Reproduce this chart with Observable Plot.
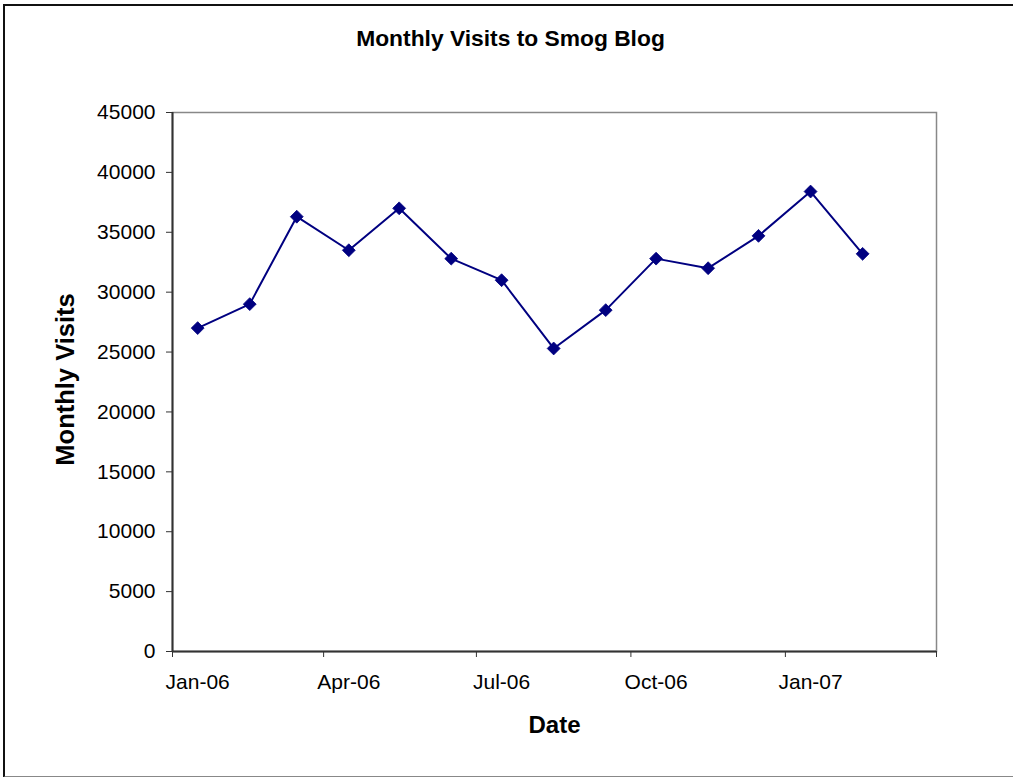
<!DOCTYPE html>
<html>
<head>
<meta charset="utf-8">
<script src="https://cdn.jsdelivr.net/npm/d3@7"></script>
<script src="https://cdn.jsdelivr.net/npm/@observablehq/plot@0.6"></script>
<style>
  html, body { margin: 0; padding: 0; background: #fff; }
  #wrap { position: relative; width: 1013px; height: 777px; overflow: hidden; }
  #edge {
    position: absolute; left: 3px; top: 4px; width: 1030px; height: 770px;
    border-left: 2px solid #111; border-top: 2px solid #111; border-bottom: 2px solid #888;
    pointer-events: none;
  }
  #chart { position: absolute; left: 0; top: 0; }
</style>
</head>
<body>
<div id="wrap"><div id="chart"></div><div id="edge"></div></div>
<script>
// Monthly visit counts, one per month
const months = ["2006-01", "2006-02", "2006-03", "2006-04", "2006-05", "2006-06", "2006-07",
                "2006-08", "2006-09", "2006-10", "2006-11", "2006-12", "2007-01", "2007-02"];
const visits = [27000, 29000, 36300, 33500, 37000, 32800, 31000,
                25300, 28500, 32800, 32000, 34700, 38400, 33200];

// Axis ticks: quarter boundaries and the months that carry a label
const quarterStarts = ["2006-01", "2006-04", "2006-07", "2006-10", "2007-01", "2007-04"];
const labelMonths = ["2006-01", "2006-04", "2006-07", "2006-10", "2007-01"];
const yTicks = [0, 5000, 10000, 15000, 20000, 25000, 30000, 35000, 40000, 45000];

const title = "Monthly Visits to Smog Blog";
const xTitle = "Date";
const yTitle = "Monthly Visits";

const monthStart = s => new Date(s + "-01T00:00:00Z");
const midMonth = s => new Date(s + "-16T00:00:00Z");

const data = months.map((m, i) => ({date: midMonth(m), visits: visits[i]}));

const font = "'Liberation Sans', Arial, Helvetica, sans-serif";
const navy = "#000080";

const chart = Plot.plot({
  width: 1013,
  height: 777,
  marginLeft: 172,
  marginRight: 77,
  marginTop: 112,
  marginBottom: 126,
  style: {fontFamily: font, fontSize: "21px", color: "#000", background: "transparent"},
  x: {type: "utc", domain: [monthStart("2006-01"), monthStart("2007-04")]},
  y: {domain: [0, 45000]},
  marks: [
    // plot area border: grey top/right, dark axis lines left/bottom
    Plot.frame({stroke: "#888", strokeWidth: 1.5}),
    Plot.ruleX([monthStart("2006-01")], {stroke: "#333", strokeWidth: 2}),
    Plot.ruleY([0], {stroke: "#333", strokeWidth: 2}),
    Plot.axisY({ticks: yTicks, tickSize: 6, tickPadding: 11, tickFormat: d => String(d),
      stroke: "#333", fontSize: 21, label: null}),
    // quarter tick marks (unlabelled)
    Plot.axisX({ticks: quarterStarts.map(monthStart), tickSize: 6, tickFormat: () => "",
      stroke: "#333", label: null}),
    // month labels centred under their data point
    Plot.axisX({ticks: labelMonths.map(midMonth), tickSize: 0, tickPadding: 23,
      tickFormat: d3.utcFormat("%b-%y"), fontSize: 21, label: null}),
    Plot.line(data, {x: "date", y: "visits", stroke: navy, strokeWidth: 2}),
    Plot.dot(data, {x: "date", y: "visits", symbol: "diamond2", r: 5.8, fill: navy, stroke: navy, strokeWidth: 0.8}),
    // titles
    Plot.text([title], {frameAnchor: "top", dx: -44, dy: -73.5, fontSize: 22.8, fontWeight: "bold",
      fill: "#000", lineAnchor: "middle", textAnchor: "middle"}),
    Plot.text([xTitle], {frameAnchor: "bottom", dy: 73.7, fontSize: 24, fontWeight: "bold",
      fill: "#000", lineAnchor: "middle", textAnchor: "middle"}),
    Plot.text([yTitle], {frameAnchor: "left", dx: -106.5, dy: -2.5, rotate: -90, fontSize: 25.5,
      fontWeight: "bold", fill: "#000", lineAnchor: "middle", textAnchor: "middle"})
  ]
});

document.getElementById("chart").appendChild(chart);
</script>
</body>
</html>
